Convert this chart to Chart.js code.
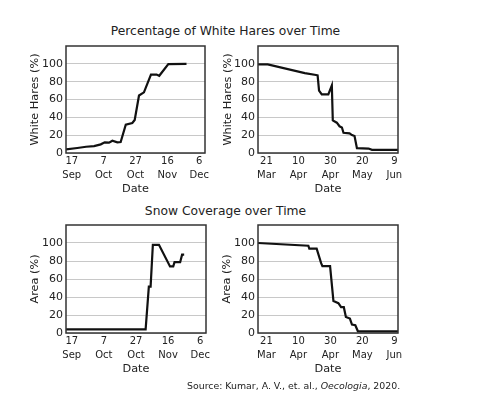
<!DOCTYPE html>
<html>
<head>
<meta charset="utf-8">
<script src="https://cdn.jsdelivr.net/npm/chart.js@4/dist/chart.umd.min.js"></script>
<style>
  body { margin: 0; background: #fff; }
  #page { position: relative; width: 478px; height: 403px; font-family: "DejaVu Sans", sans-serif; color: #222; }
  #page canvas { position: absolute; }
  .ttl { position: absolute; left: 0; width: 451px; text-align: center; font-size: 12.3px; line-height: 14px; }
  #src { position: absolute; left: 187px; top: 380px; font-size: 9.4px; line-height: 11px; white-space: nowrap; }
</style>
</head>
<body>
<div id="page">
  <div class="ttl" style="top:24px">Percentage of White Hares over Time</div>
  <div class="ttl" style="top:204px">Snow Coverage over Time</div>
  <canvas id="hareFall"></canvas>
  <canvas id="hareSpring"></canvas>
  <canvas id="snowFall"></canvas>
  <canvas id="snowSpring"></canvas>
  <div id="src">Source: Kumar, A. V., et. al., <i>Oecologia</i>, 2020.</div>
</div>
<script>
// days counted from 17 Sep (fall) and 21 Mar (spring)
var tickDays = [0, 20, 40, 60, 80];
var fallTickLabels = [["17", "Sep"], ["7", "Oct"], ["27", "Oct"], ["16", "Nov"], ["6", "Dec"]];
var springTickLabels = [["21", "Mar"], ["10", "Apr"], ["30", "Apr"], ["20", "May"], ["9", "Jun"]];
var yTicks = [0, 20, 40, 60, 80, 100];

var hareFallDays = [-3.6, 3.5, 9, 14, 18.2, 20.7, 23.4, 25.5, 28.6, 30.7, 33.9, 38, 39.5, 42.2, 45.3, 49.7, 53.2, 54.9, 60.6, 72];
var hareFallPct = [4, 5.6, 7, 7.8, 9.7, 12, 11.6, 13.8, 12, 12.3, 31.7, 33.6, 37, 64.5, 68, 88, 88, 86.6, 99.6, 100];

var hareSpringDays = [-5.3, 0.8, 24, 31, 32, 32.9, 34.6, 38.7, 40.9, 41.5, 44, 45.7, 47.2, 48.2, 52, 53.5, 55.1, 56.6, 63.9, 66, 82.3];
var hareSpringPct = [99.3, 99.3, 89.6, 87.5, 87, 70, 65.7, 65.7, 75.7, 36.6, 34, 30, 28.7, 22.7, 22, 20.1, 19, 5.5, 5, 3.5, 3.5];

var snowFallDays = [-3.6, 46, 48, 49.1, 50.5, 54.3, 61.2, 63.2, 64, 67.5, 68.7, 70];
var snowFallPct = [4, 4, 51.5, 51.5, 98, 98, 74, 74, 78.7, 78.7, 87, 87];

var snowSpringDays = [-5.3, 26.2, 26.8, 31.4, 34.2, 35, 39.8, 41.9, 45, 46.7, 48.4, 49.7, 52.2, 53.5, 55.6, 57.2, 82.3];
var snowSpringPct = [100, 97, 93.7, 93.7, 77.6, 74.3, 74.3, 35.5, 33.2, 28.7, 28.7, 17.9, 16, 9.3, 8.6, 1.9, 1.9];

var FONT = "'DejaVu Sans', sans-serif";

// box round the plot area
var frame = {
    id: 'frame',
    afterDatasetsDraw: function (chart) {
        var ctx = chart.ctx, a = chart.chartArea;
        ctx.save();
        ctx.strokeStyle = '#333';
        ctx.lineWidth = 1.5;
        ctx.strokeRect(a.left, a.top, a.right - a.left, a.bottom - a.top);
        ctx.restore();
    }
};

function makeChart(id, box, days, vals, yTitle, tickLabels, xMin, xMax) {
    var cv = document.getElementById(id);
    cv.width = box.w; cv.height = box.h;
    cv.style.left = box.x + 'px'; cv.style.top = box.y + 'px';
    cv.style.width = box.w + 'px'; cv.style.height = box.h + 'px';

    var titleSize = 11.3, lh = titleSize * 1.2;

    new Chart(cv, {
        type: 'line',
        data: {
            datasets: [{
                data: days.map(function (d, i) { return { x: d, y: vals[i] }; }),
                borderColor: '#111',
                borderWidth: 2.2,
                pointRadius: 0,
                tension: 0,
                fill: false
            }]
        },
        options: {
            responsive: false,
            animation: false,
            layout: { padding: { top: box.aT - box.y, right: box.x + box.w - box.aR, left: 0, bottom: 0 } },
            plugins: { legend: { display: false }, tooltip: { enabled: false } },
            scales: {
                x: {
                    type: 'linear', min: xMin, max: xMax,
                    afterBuildTicks: function (s) { s.ticks = tickDays.map(function (v) { return { value: v }; }); },
                    afterFit: function (s) { s.height = box.y + box.h - box.aB; },
                    grid: { display: false, drawTicks: false },
                    border: { display: false },
                    ticks: {
                        padding: 1, maxRotation: 0, autoSkip: false, color: '#222',
                        font: { family: FONT, size: 10, lineHeight: 1.4 },
                        callback: function (v) { return tickLabels[tickDays.indexOf(v)]; }
                    },
                    title: { display: true, text: 'Date', color: '#222', font: { family: FONT, size: titleSize }, padding: 0 }
                },
                y: {
                    min: 0, max: 120,
                    afterBuildTicks: function (s) { s.ticks = yTicks.map(function (v) { return { value: v }; }); },
                    afterFit: function (s) { s.width = box.aL - box.x; },
                    grid: { color: '#c8c8c8', lineWidth: 1, drawTicks: false },
                    border: { display: false },
                    ticks: { padding: 3, color: '#222', font: { family: FONT, size: 11 } },
                    title: {
                        display: true, text: yTitle, color: '#222',
                        font: { family: FONT, size: titleSize },
                        padding: { top: box.yTitleX - box.x - lh / 2, bottom: 0 }
                    }
                }
            }
        },
        plugins: [frame]
    });
}

function init() {
    makeChart('hareFall', { x: 20, y: 36, w: 196, h: 160, aL: 66, aR: 205, aT: 46, aB: 153, yTitleX: 35 },
        hareFallDays, hareFallPct, 'White Hares (%)', fallTickLabels, -3.6, 83.6);
    makeChart('hareSpring', { x: 212, y: 36, w: 196, h: 160, aL: 258, aR: 398, aT: 46, aB: 153, yTitleX: 228.3 },
        hareSpringDays, hareSpringPct, 'White Hares (%)', springTickLabels, -5.3, 82.3);
    makeChart('snowFall', { x: 20, y: 215, w: 196, h: 161, aL: 66, aR: 206, aT: 225, aB: 333, yTitleX: 35 },
        snowFallDays, snowFallPct, 'Area (%)', fallTickLabels, -3.6, 83.6);
    makeChart('snowSpring', { x: 212, y: 215, w: 196, h: 161, aL: 258, aR: 398, aT: 225, aB: 333, yTitleX: 227.3 },
        snowSpringDays, snowSpringPct, 'Area (%)', springTickLabels, -5.3, 82.3);
}
init();
</script>
</body>
</html>
